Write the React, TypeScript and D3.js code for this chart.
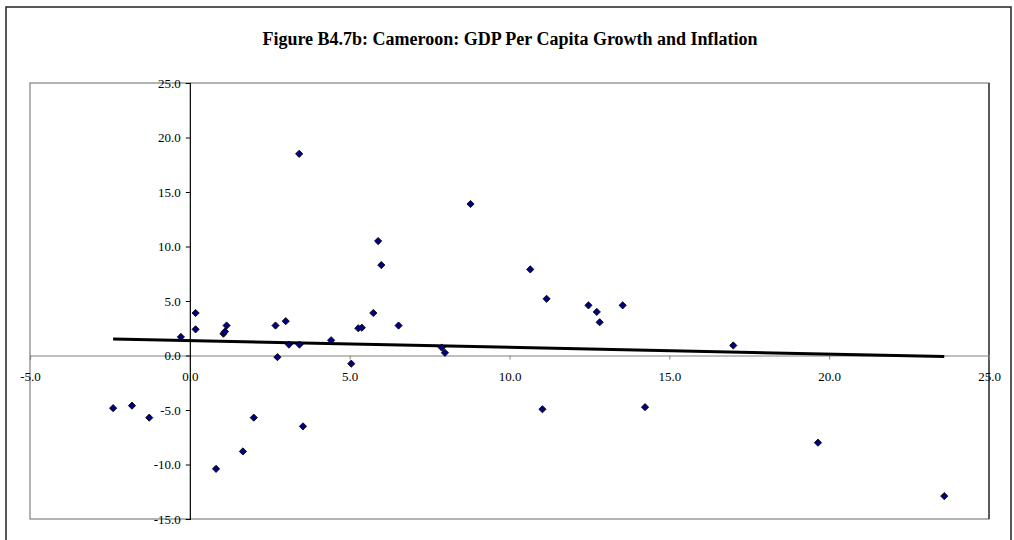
import React, { useEffect, useRef } from "react";
import * as d3 from "d3";

const title = "Figure B4.7b: Cameroon: GDP Per Capita Growth and Inflation";

// Inflation (x) and GDP per capita growth (y)
const inflation = [
  -0.28, 0.18, 0.18, 1.05, 1.1, 1.15, 2.68, 2.74, 3.0, 3.1, 3.43, 3.42, 4.42, 5.05,
  5.27, 5.38, 5.74, 5.89, 5.99, 6.53, 8.78, 7.88, 7.98, 10.65, 11.16, 12.47, 12.73,
  12.82, 13.54, 17.0, -2.4, -1.81, -1.27, 0.82, 1.66, 2.0, 3.54, 11.03, 14.24, 19.65,
  23.6,
];
const growth = [
  1.7, 3.9, 2.4, 2.0, 2.2, 2.75, 2.75, -0.15, 3.15, 1.0, 1.0, 18.5, 1.4, -0.75,
  2.5, 2.55, 3.9, 10.5, 8.3, 2.75, 13.9, 0.73, 0.25, 7.9, 5.2, 4.6, 4.0,
  3.05, 4.6, 0.92, -4.83, -4.6, -5.7, -10.4, -8.8, -5.7, -6.5, -4.93, -4.74, -8.0,
  -12.9,
];

const xTicks = [-5, 0, 5, 10, 15, 20, 25];
const yTicks = [-15, -10, -5, 0, 5, 10, 15, 20, 25];

export default function App() {
  const ref = useRef<SVGSVGElement>(null);

  useEffect(() => {
    const svg = d3.select(ref.current);
    svg.selectAll("*").remove();

    const font = "'Liberation Serif', 'Times New Roman', serif";
    const x = d3.scaleLinear().domain([-5, 25]).range([30, 989]);
    const y = d3.scaleLinear().domain([-15, 25]).range([519, 83]);

    // outer chart frame
    svg.append("rect")
      .attr("x", 6).attr("y", 7).attr("width", 1005).attr("height", 560)
      .attr("fill", "white").attr("stroke", "#222").attr("stroke-width", 1.5);

    // title
    svg.append("text")
      .attr("x", 510).attr("y", 45)
      .attr("text-anchor", "middle")
      .attr("font-family", font).attr("font-weight", "bold").attr("font-size", 18)
      .text(title);

    // plot area border
    svg.append("rect")
      .attr("x", 30).attr("y", 83).attr("width", 959).attr("height", 436)
      .attr("fill", "none").attr("stroke", "#808080").attr("stroke-width", 1.2);
    svg.append("line")
      .attr("x1", 989).attr("x2", 989).attr("y1", 83).attr("y2", 519)
      .attr("stroke", "#000").attr("stroke-width", 1);

    const fmt = (v: number) => v.toFixed(1);

    // x axis at y=0
    const gx = svg.append("g").attr("transform", `translate(0,${y(0)})`)
      .call(d3.axisBottom(x).tickValues(xTicks).tickFormat(fmt as any).tickSize(4).tickPadding(12));
    gx.select(".domain").attr("stroke", "#808080").attr("stroke-width", 1.2);
    gx.selectAll(".tick line").attr("stroke", "#808080");
    gx.selectAll("text").attr("font-family", font).attr("font-size", 13).attr("fill", "#000");

    // y axis at x=0
    const gy = svg.append("g").attr("transform", `translate(${x(0)},0)`)
      .call(d3.axisLeft(y).tickValues(yTicks).tickFormat(fmt as any).tickSize(4).tickPadding(5));
    gy.select(".domain").attr("stroke", "#000").attr("stroke-width", 1.2);
    gy.selectAll(".tick line").attr("stroke", "#000");
    gy.selectAll("text").attr("font-family", font).attr("font-size", 13).attr("fill", "#000");

    // trend line (least squares)
    const n = inflation.length;
    const mx = d3.mean(inflation)!;
    const my = d3.mean(growth)!;
    let sxy = 0, sxx = 0;
    for (let i = 0; i < n; i++) {
      sxy += (inflation[i] - mx) * (growth[i] - my);
      sxx += (inflation[i] - mx) ** 2;
    }
    const slope = sxy / sxx;
    const icpt = my - slope * mx;
    const [x0, x1] = d3.extent(inflation) as [number, number];
    svg.append("path")
      .attr("d", d3.line<number>().x((d) => x(d)).y((d) => y(icpt + slope * d))([x0, x1]))
      .attr("stroke", "#000").attr("stroke-width", 3).attr("fill", "none");

    // points
    const sym = d3.symbol().type(d3.symbolSquare).size(26);
    svg.append("g").selectAll("path")
      .data(inflation.map((v, i) => [v, growth[i]]))
      .join("path")
      .attr("d", sym() as string)
      .attr("transform", (d) => `translate(${x(d[0])},${y(d[1])}) rotate(45)`)
      .attr("fill", "#000080").attr("stroke", "#000").attr("stroke-width", 0.8);
  }, []);

  return (
    <svg ref={ref} width={1014} height={540}
      style={{ position: "absolute", left: 0, top: 0, background: "white" }} />
  );
}
